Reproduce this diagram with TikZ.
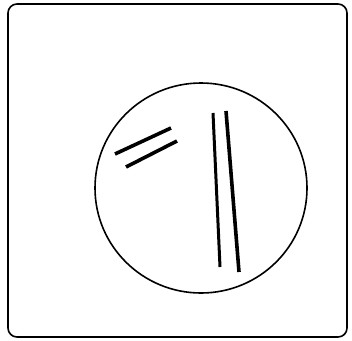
\documentclass[tikz,border=0pt]{standalone}
\begin{document}
\begin{tikzpicture}[x=1pt,y=-1pt,
  frame/.style={draw=black,line width=1.6pt,rounded corners=9pt},
  dish/.style={draw=black,line width=1.6pt},
  streak/.style={draw=black,line width=3.6pt}]
\useasboundingbox (0,0) rectangle (352,340);
\draw[frame] (8,4) rectangle (347,337);
\draw[dish] (201,188) ellipse[x radius=106,y radius=105];
\coordinate (a1) at (115,154); \coordinate (a2) at (171,128);
\coordinate (b1) at (126,167); \coordinate (b2) at (177,141);
\coordinate (c1) at (213,113); \coordinate (c2) at (220,267);
\coordinate (d1) at (226,111); \coordinate (d2) at (239,272);
\draw[streak] (a1) -- (a2);
\draw[streak] (b1) -- (b2);
\draw[streak,line width=3pt] (c1) -- (c2);
\draw[streak] (d1) -- (d2);
\end{tikzpicture}
\end{document}
